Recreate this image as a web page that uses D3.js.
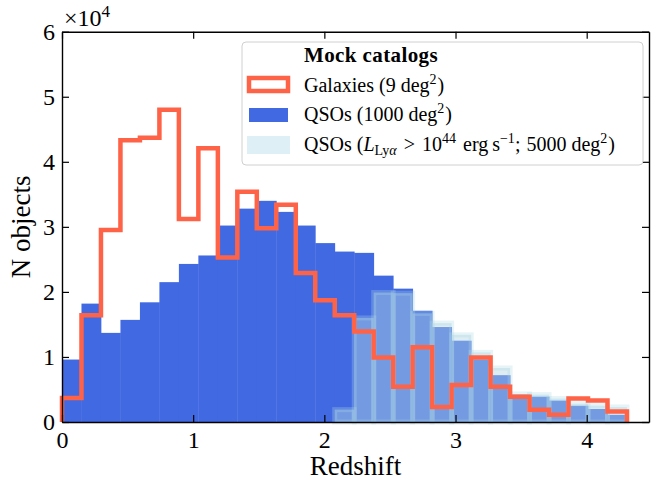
<!DOCTYPE html>
<html>
<head>
<meta charset="utf-8">
<script src="https://cdn.jsdelivr.net/npm/d3@7"></script>
<style>
  body { margin: 0; background: white; }
  text { font-family: "Liberation Serif", serif; fill: black; }
</style>
</head>
<body>
<div class="container"></div>
<script>
// histogram counts, in units of 1e4, 29 bins between zMin and zMax
const zMin = 0;
const zMax = 4.307;
const nBins = 29;
const galaxyCounts = [0.37, 1.64, 2.95, 4.33, 4.37, 4.80, 3.12, 4.21, 2.53, 3.54, 2.98, 3.34, 2.29, 1.87,
                      1.64, 1.39, 0.99, 0.54, 1.15, 0.23, 0.57, 0.99, 0.54, 0.39, 0.19, 0.11, 0.36, 0.33, 0.16];
const qsoCounts = [0.96, 1.82, 1.37, 1.57, 1.84, 2.15, 2.43, 2.56, 3.02, 3.28, 3.40, 3.23, 3.02, 2.75,
                   2.62, 2.60, 2.25, 2.05, 1.71, 1.46, 1.25, 0.96, 0.72, 0.42, 0.39, 0.33, 0.25, 0.20, 0.11];
const qsoBrightCounts = [0, 0, 0, 0, 0, 0, 0, 0, 0, 0, 0, 0, 0, 0,
                         0.19, 1.60, 1.99, 1.98, 1.67, 1.52, 1.34, 1.07, 0.83, 0.43, 0.42, 0.36, 0.28, 0.25, 0.23];
const xTicks = [0, 1, 2, 3, 4];
const yTicks = [0, 1, 2, 3, 4, 5, 6];

const w = 651;
const h = 486;
const padL = 62, padR = 649, padT = 31.7, padB = 422;

const binW = (zMax - zMin) / nBins;
const edges = d3.range(nBins).map(i => zMin + i * binW);

const svg = d3.select(".container")
              .append("svg")
              .attr("width", w)
              .attr("height", h);

const x = d3.scaleLinear().domain([0, 4.475]).range([padL, padR]);
const y = d3.scaleLinear().domain([0, 6]).range([padB, padT]);

// QSOs 1000 deg2, solid royal blue
svg.append("g").selectAll("rect")
   .data(qsoCounts).enter()
   .append("rect")
   .attr("x", (d, i) => x(edges[i]))
   .attr("y", d => y(d))
   .attr("width", x(binW) - x(0) + 0.4)
   .attr("height", d => y(0) - y(d))
   .style("fill", "#4169e1");

// bright QSOs, light blue with alpha, thick edge of same colour
svg.append("g").selectAll("rect")
   .data(qsoBrightCounts).enter()
   .append("rect")
   .attr("x", (d, i) => x(edges[i]))
   .attr("y", d => y(d))
   .attr("width", x(binW) - x(0))
   .attr("height", d => y(0) - y(d))
   .style("fill", "#b4d6e2")
   .style("fill-opacity", 0.45)
   .style("stroke", "#add8e6")
   .style("stroke-opacity", 0.3)
   .style("stroke-width", 5);

// galaxies step outline
const stepPts = [[zMin, 0]]
  .concat(galaxyCounts.map((d, i) => [edges[i], d]))
  .concat([[zMax, galaxyCounts[nBins - 1]], [zMax, 0]]);

svg.append("path")
   .attr("d", d3.line().x(d => x(d[0])).y(d => y(d[1])).curve(d3.curveStepAfter)(stepPts))
   .style("fill", "none")
   .style("stroke", "tomato")
   .style("stroke-width", 4.5)
   .style("stroke-linejoin", "miter");

// axes, ticks pointing in on all four sides
const xAxis = d3.axisBottom(x).tickValues(xTicks).tickFormat(d3.format("d"))
                .tickSizeInner(-7).tickSizeOuter(0).tickPadding(9);
const yAxis = d3.axisLeft(y).tickValues(yTicks).tickFormat(d3.format("d"))
                .tickSizeInner(-7).tickSizeOuter(0).tickPadding(7);

svg.append("g")
   .attr("transform", `translate(0, ${padB})`)
   .call(xAxis);
svg.append("g")
   .attr("transform", `translate(${padL}, 0)`)
   .call(yAxis);
svg.append("g")
   .attr("transform", `translate(0, ${padT})`)
   .call(d3.axisTop(x).tickValues(xTicks).tickSizeInner(-7).tickSizeOuter(0).tickFormat(""));
svg.append("g")
   .attr("transform", `translate(${padR}, 0)`)
   .call(d3.axisRight(y).tickValues(yTicks).tickSizeInner(-7).tickSizeOuter(0).tickFormat(""));

svg.selectAll(".domain").style("stroke", "black").style("stroke-width", 1.4);
svg.selectAll(".tick line").style("stroke", "black").style("stroke-width", 1.2);
svg.selectAll(".tick text").style("font-family", "Liberation Serif").style("font-size", "24px");

// the x10^4 offset label
const offs = svg.append("text").attr("x", 64).attr("y", 26).style("font-size", "24px");
offs.append("tspan").text("\u00d710");
offs.append("tspan").attr("dy", -9).style("font-size", "17px").text("4");

// axis titles
svg.append("text")
   .attr("x", (padL + padR) / 2)
   .attr("y", 475)
   .attr("text-anchor", "middle")
   .style("font-size", "27px")
   .text("Redshift");

svg.append("text")
   .attr("transform", `translate(30, ${(padT + padB) / 2}) rotate(-90)`)
   .attr("text-anchor", "middle")
   .style("font-size", "27px")
   .text("N objects");

// legend
const lg = svg.append("g");
lg.append("rect")
  .attr("x", 242).attr("y", 42)
  .attr("width", 401).attr("height", 123)
  .attr("rx", 4)
  .style("fill", "white").style("fill-opacity", 0.8)
  .style("stroke", "#d0d0d0").style("stroke-width", 1);

lg.append("text")
  .attr("x", 304).attr("y", 62)
  .style("font-size", "21px").style("font-weight", "bold")
  .style("letter-spacing", "0.4px")
  .text("Mock catalogs");

lg.append("rect")
  .attr("x", 249).attr("y", 78).attr("width", 39).attr("height", 13)
  .style("fill", "white").style("stroke", "tomato").style("stroke-width", 4.5);
lg.append("rect")
  .attr("x", 249).attr("y", 108).attr("width", 39).attr("height", 14)
  .style("fill", "#4169e1");
lg.append("rect")
  .attr("x", 247).attr("y", 136).attr("width", 43).attr("height", 18)
  .style("fill", "#add8e6").style("fill-opacity", 0.4);

const t1 = lg.append("text").attr("x", 304).attr("y", 92).style("font-size", "20px");
t1.append("tspan").text("Galaxies (9 deg");
t1.append("tspan").attr("dy", -8).style("font-size", "14px").text("2");
t1.append("tspan").attr("dy", 8).attr("dx", 1).text(")");

const t2 = lg.append("text").attr("x", 304).attr("y", 121).style("font-size", "20px");
t2.append("tspan").text("QSOs (1000 deg");
t2.append("tspan").attr("dy", -8).style("font-size", "14px").text("2");
t2.append("tspan").attr("dy", 8).attr("dx", 1).text(")");

const t3 = lg.append("text").attr("x", 304).attr("y", 151).style("font-size", "20px");
t3.append("tspan").text("QSOs (");
t3.append("tspan").style("font-style", "italic").text("L");
t3.append("tspan").attr("dy", 4).style("font-size", "14px").text("Ly");
t3.append("tspan").style("font-size", "14px").style("font-style", "italic").text("\u03b1");
t3.append("tspan").attr("dy", -4).attr("dx", 7).text(">");
t3.append("tspan").attr("dx", 7).text("10");
t3.append("tspan").attr("dy", -8).style("font-size", "14px").text("44");
t3.append("tspan").attr("dy", 8).attr("dx", 7).text("erg\u2009s");
t3.append("tspan").attr("dy", -8).style("font-size", "14px").text("\u22121");
t3.append("tspan").attr("dy", 8).text(";");
t3.append("tspan").attr("dx", 6).text("5000 deg");
t3.append("tspan").attr("dy", -8).style("font-size", "14px").text("2");
t3.append("tspan").attr("dy", 8).attr("dx", 1).text(")");
</script>
</body>
</html>
